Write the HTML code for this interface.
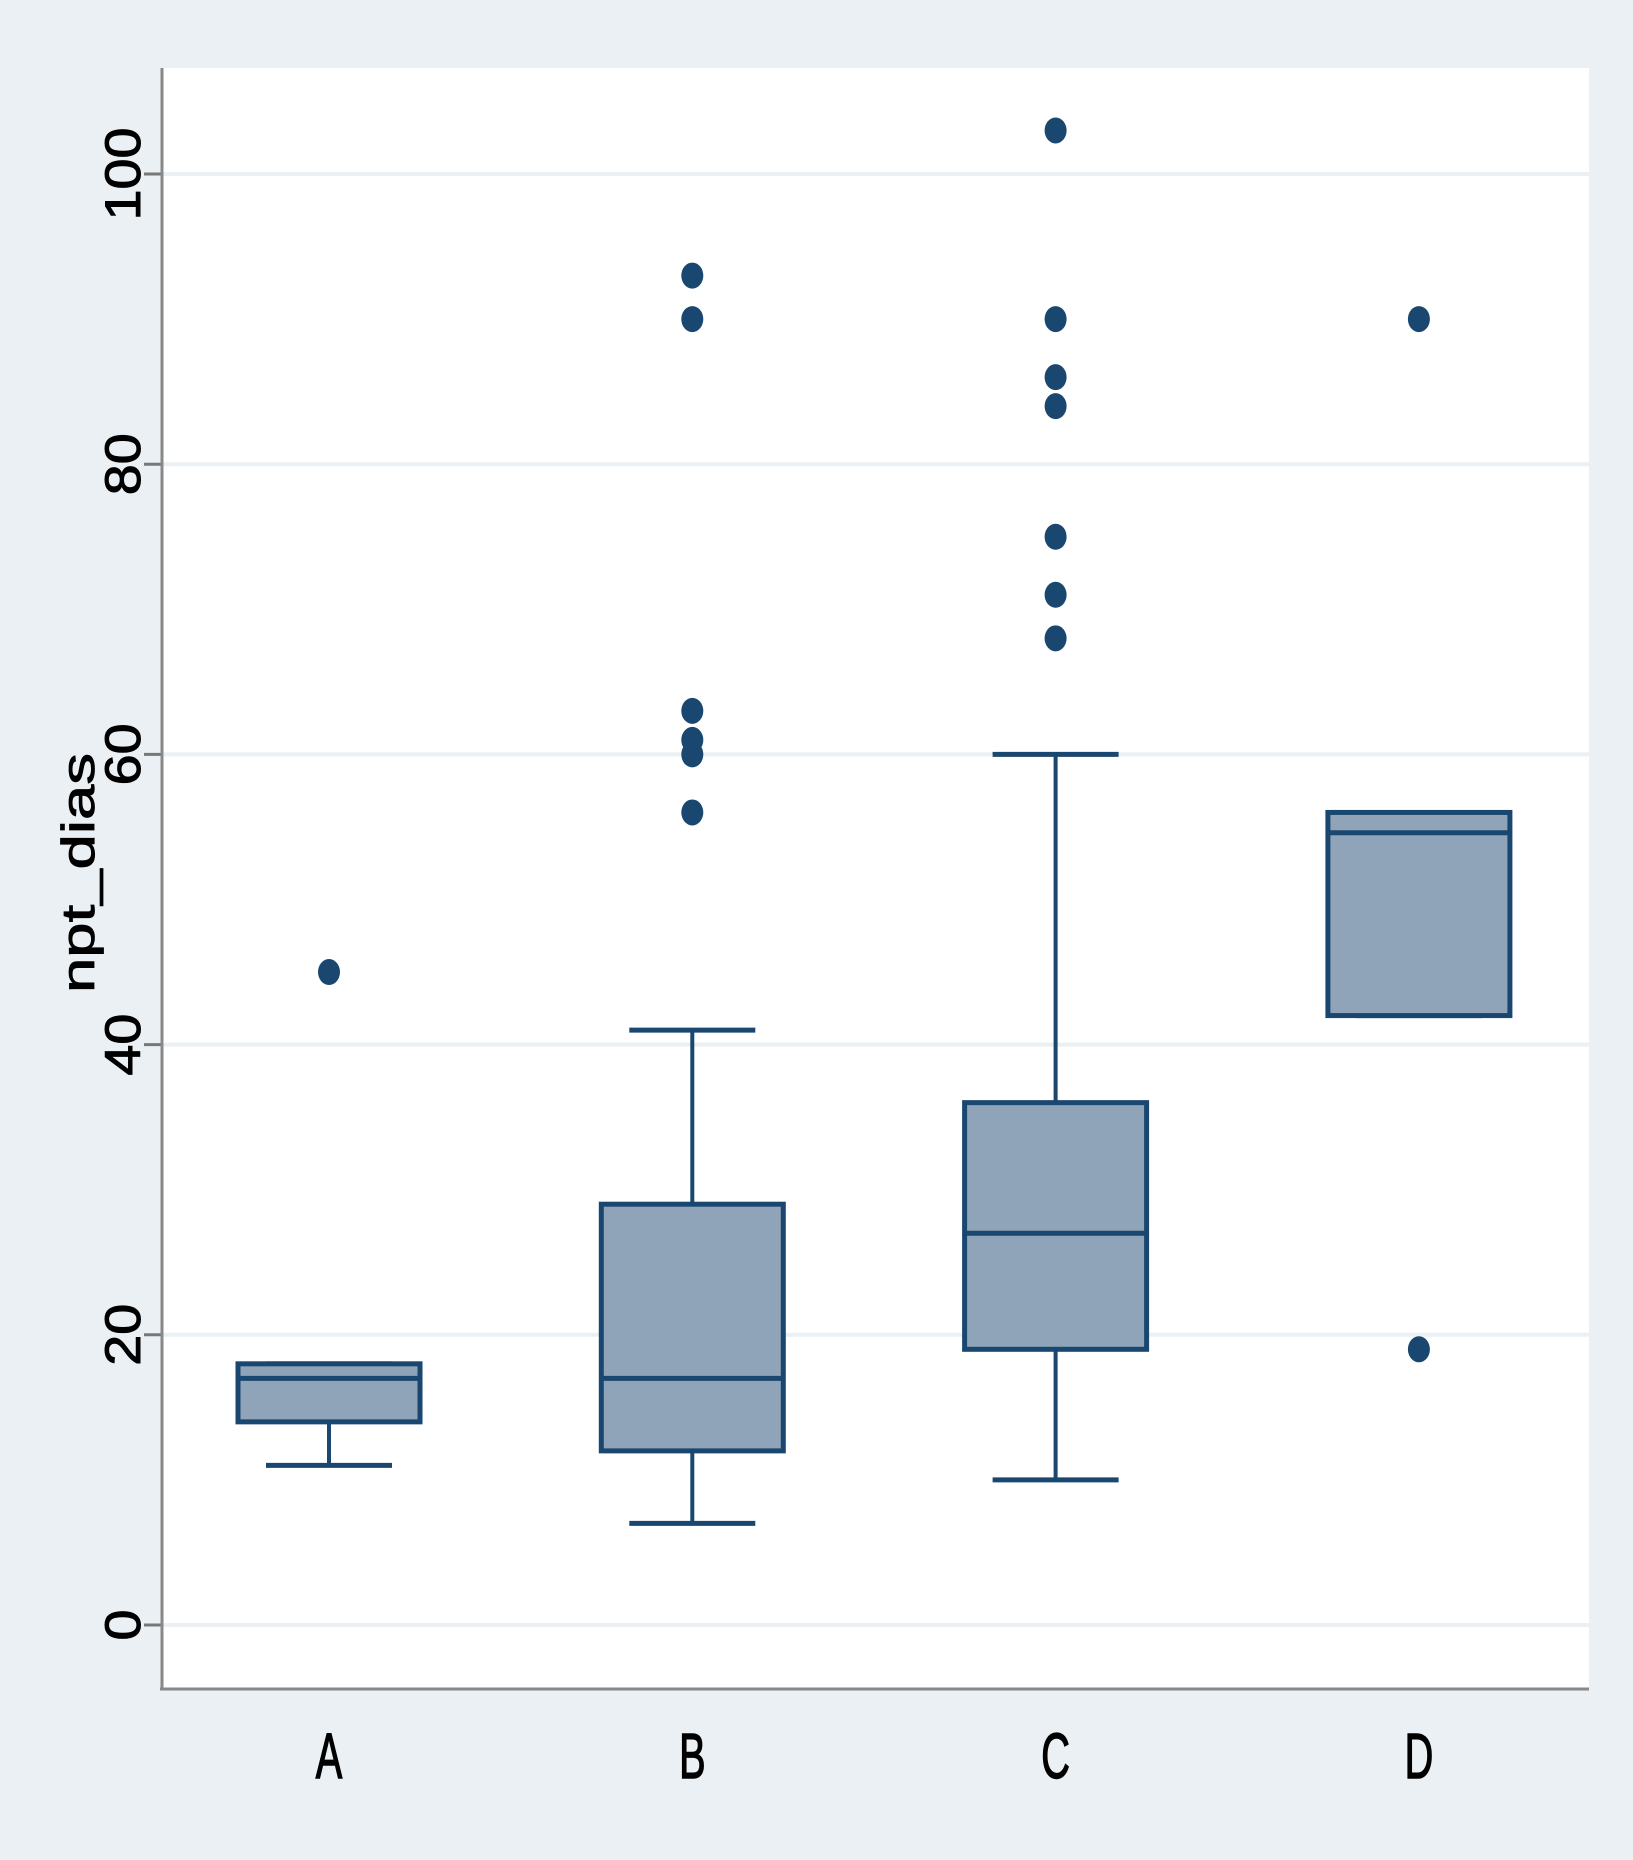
<!DOCTYPE html>
<html><head><meta charset="utf-8"><style>
html,body{margin:0;padding:0;background:#eaf0f3;}
svg{display:block;}
text{font-family:"Liberation Sans",sans-serif;fill:#000;}
</style></head><body>
<svg id="chart" width="1633" height="1860" viewBox="0 0 1633 1860" xmlns="http://www.w3.org/2000/svg">
<rect x="0" y="0" width="1633" height="1860" fill="#eaf0f3"/>
<rect x="162" y="68" width="1427" height="1620" fill="#ffffff"/>
<g id="grid"></g>
<g id="boxes"></g>
<line x1="162" y1="68" x2="162" y2="1690" stroke="#888" stroke-width="3"/>
<line x1="160" y1="1689" x2="1589" y2="1689" stroke="#888" stroke-width="3"/>
<text transform="translate(94,873) rotate(-90)" text-anchor="middle" font-size="46" textLength="240" lengthAdjust="spacingAndGlyphs" stroke="#000" stroke-width="0.8">npt_dias</text>
</svg>
<script>
const categories = ["A","B","C","D"];
const q1 = [14,12,19,42];
const medians = [17,17,27,54.6];
const q3 = [18,29,36,56];
const whiskerLow = [11,7,10,42];
const whiskerHigh = [18,41,60,56];
const outliers = [[45],[56,60,61,63,90,93],[68,71,75,84,86,90,103],[19,90]];
const yTicks = [0,20,40,60,80,100];

const NS = "http://www.w3.org/2000/svg";
const svg = document.getElementById('chart');
const grid = document.getElementById('grid');
const boxes = document.getElementById('boxes');
function y(v){ return 1625 - v*14.51; }
function x(i){ return 329 + i*363.3; }
function mk(tag, attrs, parent){ const e=document.createElementNS(NS,tag); for(const k in attrs) e.setAttribute(k,attrs[k]); parent.appendChild(e); return e; }

yTicks.forEach(t=>{
  const g = mk('line',{x1:162,x2:1589,y1:y(t),y2:y(t),stroke:'#eaf0f3','stroke-width':4},grid);
  
  
  const tk = mk('line',{x1:144,x2:162,y1:y(t),y2:y(t),stroke:'#777','stroke-width':3},grid);
  
  
  const w = String(t).length*31;
  const lb = mk('text',{transform:`translate(140,${y(t)}) rotate(-90)`,'text-anchor':'middle','font-size':50,textLength:w,lengthAdjust:'spacingAndGlyphs',stroke:'#000','stroke-width':1},svg);
  lb.textContent = t;
  
  
});

const C='#1a476f', F='#8fa4b8';
categories.forEach((c,i)=>{
  const cx=x(i), hw=91, cw=63;
  const g = mk('g',{},boxes);
  
  
  mk('line',{x1:cx,x2:cx,y1:y(whiskerLow[i]),y2:y(q1[i]),stroke:C,'stroke-width':4},g);
  mk('line',{x1:cx,x2:cx,y1:y(q3[i]),y2:y(whiskerHigh[i]),stroke:C,'stroke-width':4},g);
  mk('line',{x1:cx-cw,x2:cx+cw,y1:y(whiskerLow[i]),y2:y(whiskerLow[i]),stroke:C,'stroke-width':5},g);
  mk('line',{x1:cx-cw,x2:cx+cw,y1:y(whiskerHigh[i]),y2:y(whiskerHigh[i]),stroke:C,'stroke-width':5},g);
  mk('rect',{x:cx-hw,y:y(q3[i]),width:2*hw,height:y(q1[i])-y(q3[i]),fill:F,stroke:C,'stroke-width':5},g);
  mk('line',{x1:cx-hw,x2:cx+hw,y1:y(medians[i]),y2:y(medians[i]),stroke:C,'stroke-width':5},g);
  outliers[i].forEach(v=>{
    const p = mk('ellipse',{cx:cx,cy:y(v),rx:11,ry:13,fill:C},g);
    
    
  });
  const lb = mk('text',{transform:`translate(${cx},1778) scale(0.62,1)`,'text-anchor':'middle','font-size':64,stroke:'#000','stroke-width':1.5},svg);
  lb.textContent=c;
  
  
});
</script>
</body></html>
